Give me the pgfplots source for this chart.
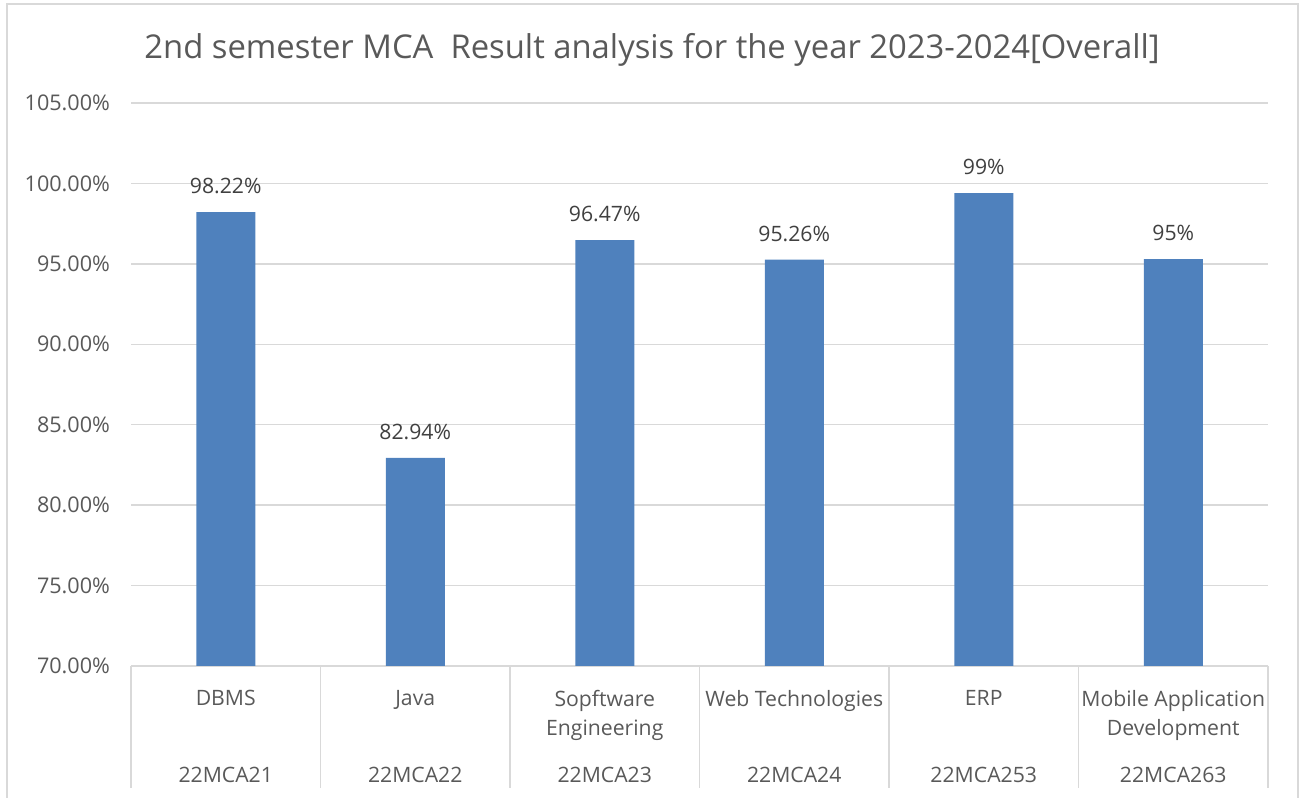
\documentclass[border=0pt]{standalone}
\usepackage{pgfplots}
\pgfplotsset{compat=1.18}
\usepackage{fontspec}
\setmainfont{Open Sans}
\definecolor{barblue}{HTML}{4F81BD}
\definecolor{txtgray}{HTML}{595959}
\definecolor{lblgray}{HTML}{404040}
\definecolor{gridgray}{HTML}{D9D9D9}
\begin{document}
\begin{tikzpicture}
\path[use as bounding box] (0,0) rectangle (651.5pt,399pt);
\draw[gridgray, line width=0.75pt] (3.5pt,0) -- (3.5pt,397pt) -- (649pt,397pt) -- (649pt,0);
\node[text=txtgray, font=\fontsize{16.4}{19}\selectfont] at (326pt,374pt) {2nd semester MCA\ \ Result analysis for the year 2023-2024[Overall]};
\begin{axis}[
  at={(65.5pt,66pt)}, anchor=south west,
  scale only axis, width=568.5pt, height=281.5pt,
  xmin=-0.5, xmax=5.5, ymin=70, ymax=105,
  ytick={70,75,...,105},
  xtick={0,...,5},
  xticklabels={{DBMS},{Java},{Sopftware\\Engineering},{Web Technologies},{ERP},{Mobile Application\\Development}},
  extra x ticks={0,...,5},
  extra x tick labels={22MCA21,22MCA22,22MCA23,22MCA24,22MCA253,22MCA263},
  extra x tick style={grid=none, major tick length=0pt, xticklabel style={anchor=base, yshift=-50pt}},
  xticklabel style={align=center, anchor=north, yshift=-8.5pt, text=txtgray, font=\fontsize{10.6}{14.5}\selectfont},
  yticklabel style={text=txtgray, font=\fontsize{10.8}{12}\selectfont, xshift=-7pt},
  yticklabel={\pgfmathprintnumber[fixed,fixed zerofill,precision=2]{\tick}\%},
  /pgf/number format/assume math mode=true,
  major tick length=0pt,
  ymajorgrids, grid style={gridgray, line width=0.75pt},
  axis line style={draw=none},
  clip=false,
  ybar, bar width=29.5pt,
  nodes near coords,
  point meta=explicit symbolic,
  every node near coord/.append style={text=lblgray, font=\fontsize{10.6}{12}\selectfont, yshift=5.5pt},
]
\addplot[fill=barblue, draw=none] coordinates {
 (0,98.22) [98.22\%]
 (1,82.94) [82.94\%]
 (2,96.47) [96.47\%]
 (3,95.26) [95.26\%]
 (4,99.4) [99\%]
 (5,95.3) [95\%]
};
\pgfplotsinvokeforeach{-0.5,0.5,1.5,2.5,3.5,4.5,5.5}{
  \draw[gridgray, line width=0.75pt] (axis cs:#1,70) -- ++(0pt,-61pt);
}
\end{axis}
\end{tikzpicture}
\end{document}
